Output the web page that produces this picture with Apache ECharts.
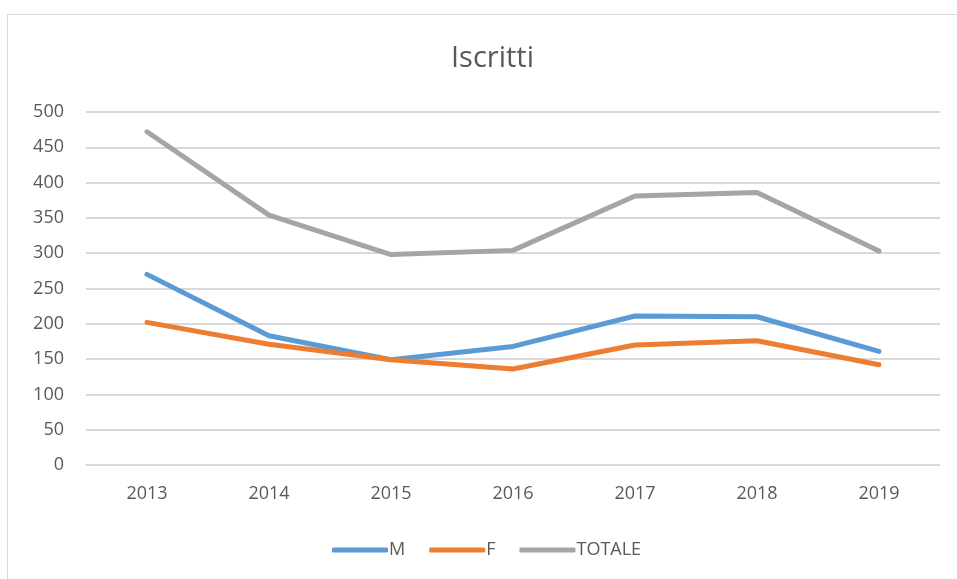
<!DOCTYPE html>
<html>
<head>
<meta charset="utf-8">
<script src="https://cdn.jsdelivr.net/npm/echarts@6/dist/echarts.min.js"></script>
<style>
  html, body { margin: 0; padding: 0; background: #fff; }
  #chart { width: 957px; height: 579px; }
</style>
</head>
<body>
<div id="chart"></div>
<script>
var years = ['2013', '2014', '2015', '2016', '2017', '2018', '2019'];
var maschi = [270, 183, 149, 168, 211, 210, 161];
var femmine = [202, 171, 149, 136, 170, 176, 142];
var totale = [472, 354, 298, 304, 381, 386, 303];
var seriesNames = ['M', 'F', 'TOTALE'];
var seriesColors = ['#5B9BD5', '#ED7D31', '#A5A5A5'];

var chart = echarts.init(document.getElementById('chart'));

function lineSeries(name, data, color) {
    return {
        name: name,
        type: 'line',
        data: data,
        symbol: 'none',
        color: color,
        lineStyle: { width: 5, color: color, cap: 'round', join: 'round' }
    };
}

var option = {
    animation: false,
    textStyle: { fontFamily: 'Open Sans, sans-serif' },
    graphic: [{
        type: 'rect',
        left: 5, top: 12,
        shape: { width: 1000, height: 1000 },
        style: { fill: 'none', stroke: '#D9D9D9', lineWidth: 1 },
        silent: true
    }],
    title: {
        text: 'Iscritti',
        left: 446,
        top: 39,
        textStyle: { fontSize: 29, fontWeight: 'normal', color: '#595959' }
    },
    legend: {
        bottom: 15,
        left: 327,
        itemWidth: 56,
        itemHeight: 5,
        itemGap: 24,
        icon: 'roundRect',
        data: seriesNames,
        textStyle: { fontSize: 18, color: '#595959', padding: [0, 0, 0, -4] }
    },
    grid: { left: 86, right: 17, top: 112, bottom: 114 },
    xAxis: {
        type: 'category',
        data: years,
        boundaryGap: true,
        axisTick: { show: false },
        axisLine: { lineStyle: { color: '#D9D9D9', width: 1 } },
        axisLabel: { fontSize: 18, color: '#595959', margin: 20 }
    },
    yAxis: {
        type: 'value',
        min: 0, max: 500, interval: 50,
        axisLine: { show: false },
        axisTick: { show: false },
        axisLabel: { fontSize: 18, color: '#595959', margin: 22 },
        splitLine: { lineStyle: { color: '#D9D9D9', width: 2 } }
    },
    series: [
        lineSeries(seriesNames[0], maschi, seriesColors[0]),
        lineSeries(seriesNames[1], femmine, seriesColors[1]),
        lineSeries(seriesNames[2], totale, seriesColors[2])
    ]
};

chart.setOption(option);
</script>
</body>
</html>
